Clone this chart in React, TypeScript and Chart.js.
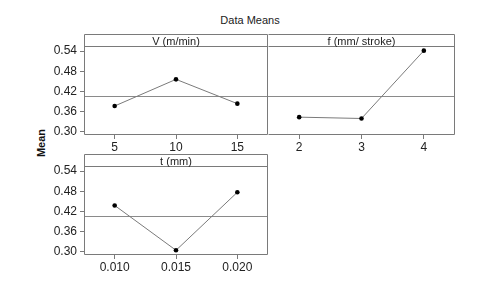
import React, { useEffect, useRef } from "react";
import { Chart, registerables } from "chart.js";
Chart.register(...registerables);

const vLevels = [5, 10, 15];
const vMeans = [0.377, 0.456, 0.384];
const fLevels = [2, 3, 4];
const fMeans = [0.344, 0.34, 0.541];
const tLevels = [0.01, 0.015, 0.02];
const tMeans = [0.438, 0.305, 0.477];
const yTicks = [0.3, 0.36, 0.42, 0.48, 0.54];
const grandMean = 0.406;
const yMin = 0.2911;
const yMax = 0.5904;
const headerLine = 0.5548;

const FONT = "'Liberation Sans', Arial, sans-serif";

const panelPlugin = {
  id: "panel",
  beforeDatasetsDraw(chart: any) {
    const { ctx, chartArea, scales } = chart;
    const y = scales.y.getPixelForValue(grandMean);
    ctx.save();
    ctx.strokeStyle = "#8a8a8a";
    ctx.lineWidth = 1;
    ctx.beginPath();
    ctx.moveTo(chartArea.left, Math.round(y) + 0.5);
    ctx.lineTo(chartArea.right, Math.round(y) + 0.5);
    ctx.stroke();
    ctx.restore();
  },
  afterDraw(chart: any) {
    const { ctx, chartArea, scales } = chart;
    const opts = chart.options.plugins.panel;
    const hy = Math.round(scales.y.getPixelForValue(headerLine)) + 0.5;
    ctx.save();
    ctx.strokeStyle = "#7a7a7a";
    ctx.lineWidth = 1;
    const l = Math.round(chartArea.left) + 0.5;
    const r = Math.round(chartArea.right) - 0.5;
    const t = Math.round(chartArea.top) + 0.5;
    const b = Math.round(chartArea.bottom) - 0.5;
    ctx.beginPath();
    if (opts.skipLeft) {
      ctx.moveTo(l, t);
      ctx.lineTo(r, t);
      ctx.lineTo(r, b);
      ctx.lineTo(l, b);
    } else {
      ctx.rect(l, t, r - l, b - t);
    }
    ctx.moveTo(l, hy);
    ctx.lineTo(r, hy);
    ctx.stroke();
    ctx.fillStyle = "#222";
    ctx.font = `11px ${FONT}`;
    ctx.textAlign = "center";
    ctx.textBaseline = "middle";
    ctx.fillText(opts.header, (l + r) / 2, (t + hy) / 2 + 1);
    ctx.restore();
  },
};

function makeChart(
  canvas: HTMLCanvasElement,
  levels: number[],
  means: number[],
  header: string,
  showY: boolean,
  fmt: (v: number) => string,
  padLeft: number
) {
  const step = levels[1] - levels[0];
  return new Chart(canvas, {
    type: "line",
    data: {
      datasets: [
        {
          data: levels.map((x, i) => ({ x, y: means[i] })),
          borderColor: "#7a7a7a",
          borderWidth: 1,
          pointBackgroundColor: "#000",
          pointBorderColor: "#000",
          pointRadius: 2.3,
          pointBorderWidth: 0,
          tension: 0,
        },
      ],
    },
    options: {
      animation: false,
      responsive: false,
      events: [],
      layout: { padding: { top: 4, right: 3, left: padLeft, bottom: 0 } },
      plugins: {
        legend: { display: false },
        tooltip: { enabled: false },
        title: { display: false },
        panel: { header, skipLeft: !showY },
      } as any,
      scales: {
        x: {
          type: "linear",
          min: levels[0] - step / 2,
          max: levels[levels.length - 1] + step / 2,
          afterBuildTicks: (s: any) => {
            s.ticks = levels.map((v) => ({ value: v }));
          },
          afterFit: (s: any) => {
            s.height = 25;
            s.paddingLeft = 0;
            s.paddingRight = 0;
          },
          grid: {
            display: true,
            drawOnChartArea: false,
            drawTicks: true,
            tickLength: 4,
            color: "#7a7a7a",
          },
          border: { display: false },
          ticks: {
            color: "#222",
            font: { family: FONT, size: 12 },
            padding: 1,
            maxRotation: 0,
            callback: (v: any) => fmt(Number(v)),
          },
        },
        y: {
          type: "linear",
          display: showY,
          min: yMin,
          max: yMax,
          afterBuildTicks: (s: any) => {
            s.ticks = yTicks.map((v) => ({ value: v }));
          },
          afterFit: (s: any) => {
            s.width = showY ? 44 : 0;
            s.paddingTop = 0;
            s.paddingBottom = 0;
          },
          grid: {
            display: true,
            drawOnChartArea: false,
            drawTicks: true,
            tickLength: 4,
            color: "#7a7a7a",
          },
          border: { display: false },
          ticks: {
            color: "#222",
            font: { family: FONT, size: 12 },
            padding: 3,
            callback: (v: any) => Number(v).toFixed(2),
          },
        },
      },
    },
    plugins: [panelPlugin],
  } as any);
}

export default function App() {
  const refV = useRef<HTMLCanvasElement>(null);
  const refF = useRef<HTMLCanvasElement>(null);
  const refT = useRef<HTMLCanvasElement>(null);

  useEffect(() => {
    const charts = [
      makeChart(refV.current!, vLevels, vMeans, "V (m/min)", true, (v) => String(v), 0),
      makeChart(refF.current!, fLevels, fMeans, "f (mm/ stroke)", false, (v) => String(v), 4),
      makeChart(refT.current!, tLevels, tMeans, "t (mm)", true, (v) => v.toFixed(3), 0),
    ];
    return () => charts.forEach((c) => c.destroy());
  }, []);

  return (
    <div
      style={{
        position: "fixed",
        left: 0,
        top: 0,
        width: 490,
        height: 285,
        background: "#fff",
        fontFamily: FONT,
      }}
    >
      <div
        style={{
          position: "absolute",
          left: 0,
          width: 500,
          top: 14,
          textAlign: "center",
          fontSize: 11,
          color: "#222",
        }}
      >
        Data Means
      </div>
      <div
        style={{
          position: "absolute",
          left: 41,
          top: 143,
          transform: "translate(-50%, -50%) rotate(-90deg)",
          fontSize: 11,
          fontWeight: "bold",
          color: "#111",
          whiteSpace: "nowrap",
        }}
      >
        Mean
      </div>
      <canvas
        ref={refV}
        width={232}
        height={130}
        style={{ position: "absolute", left: 40, top: 30 }}
      />
      <canvas
        ref={refF}
        width={195}
        height={130}
        style={{ position: "absolute", left: 264, top: 30 }}
      />
      <canvas
        ref={refT}
        width={232}
        height={130}
        style={{ position: "absolute", left: 40, top: 150 }}
      />
    </div>
  );
}
